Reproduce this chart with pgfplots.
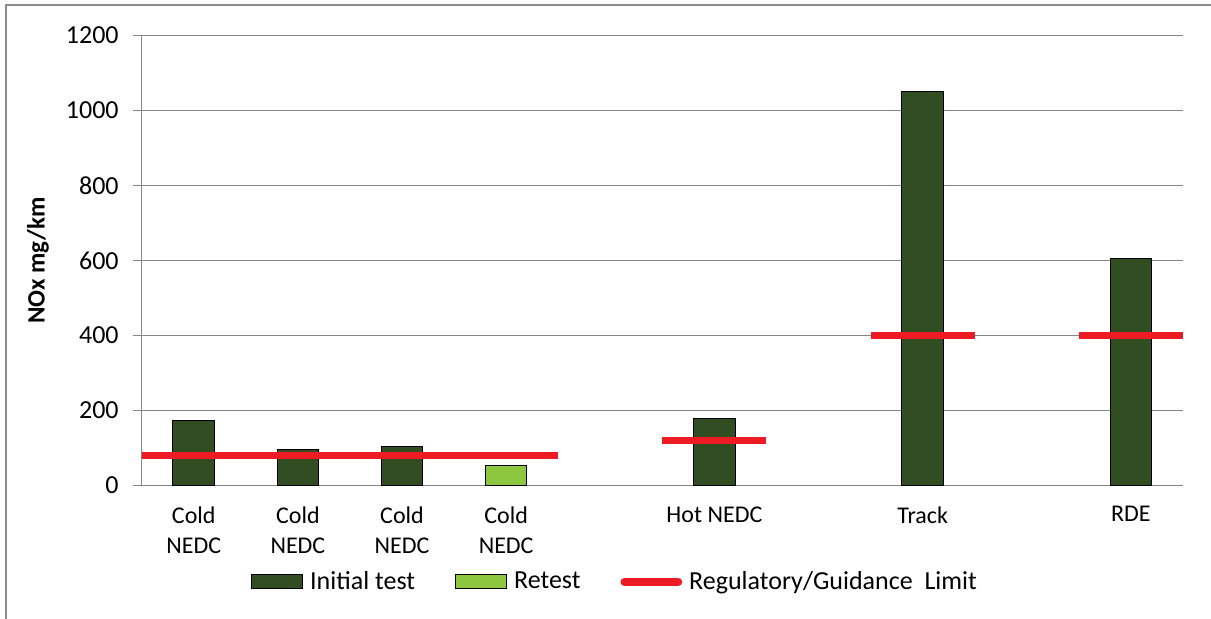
\documentclass[border=0pt]{standalone}
\usepackage{fontspec}
\setmainfont{Carlito}
\usepackage{pgfplots}
\pgfplotsset{compat=1.18}
\definecolor{darkg}{RGB}{50,77,34}
\definecolor{lightg}{RGB}{141,198,63}
\definecolor{limred}{RGB}{237,28,36}
\definecolor{gridg}{RGB}{134,134,134}
\definecolor{frameg}{RGB}{140,140,140}
\begin{document}
\begin{tikzpicture}
\useasboundingbox (0,0) rectangle (605.5pt,309.5pt);
\draw[frameg, line width=1.2pt] (3pt,0) -- (3pt,307pt) -- (605.5pt,307pt);
\begin{axis}[
  at={(70.85pt,66.75pt)}, anchor=south west,
  scale only axis, width=520.65pt, height=225pt,
  xmin=-0.5, xmax=9.5, ymin=0, ymax=1200,
  axis lines*=left,
  axis line style={gridg, line width=0.75pt},
  ytick={0,200,...,1200},
  ymajorgrids, grid style={gridg, line width=0.75pt},
  tick align=outside, major tick length=4.5pt,
  ytick style={gridg, line width=0.75pt},
  xtick={0,1,2,3,5,7,9},
  xticklabels={{Cold\\NEDC},{Cold\\NEDC},{Cold\\NEDC},{Cold\\NEDC},{Hot NEDC},{Track},{RDE}},
  xtick style={draw=none},
  xticklabel style={align=center, font=\fontsize{12}{15}\selectfont, yshift=-2.5pt},
  yticklabel style={font=\fontsize{13}{15}\selectfont, xshift=-3.5pt},
  /pgf/number format/assume math mode=true,
  /pgf/number format/1000 sep={},
  every axis y label/.style={at={(axis description cs:-0.0996,0.5)}, rotate=90, anchor=center, font=\fontsize{12.5}{15}\selectfont\bfseries},
  ylabel={NOx mg/km},
  legend style={draw=none, fill=none, at={(axis description cs:0.099,-0.214)}, anchor=west,
    legend columns=-1, font=\fontsize{13}{15}\selectfont,
    /tikz/every odd column/.append style={column sep=1.5pt},
    /tikz/every even column/.append style={column sep=18pt}},
  legend cell align=left,
]
\addplot[ybar, bar shift=0pt, bar width=20.8pt, fill=darkg, draw=black, line width=0.5pt,
  legend image code/.code={\draw[fill=darkg, draw=black, line width=0.5pt] (0pt,-3.5pt) rectangle (25.5pt,3.5pt);}]
  coordinates {(0,172) (1,97) (2,104) (5,179) (7,1051) (9,605)};
\addlegendentry{Initial test}
\addplot[ybar, bar shift=0pt, bar width=20.8pt, fill=lightg, draw=black, line width=0.5pt,
  legend image code/.code={\draw[fill=lightg, draw=black, line width=0.5pt] (0pt,-3.5pt) rectangle (25.5pt,3.5pt);}]
  coordinates {(3,52)};
\addlegendentry{Retest}
\addplot[limred, line width=3.85pt, unbounded coords=jump, mark=none,
  legend image code/.code={\draw[limred, line width=3.85pt, line cap=round] (0pt,0pt) -- (27pt,0pt);}]
  coordinates {(-0.5,80) (3.5,80) (4,nan) (4.5,120) (5.5,120) (6,nan) (6.5,400) (7.5,400) (8,nan) (8.5,400) (9.5,400)};
\addlegendentry{Regulatory/Guidance~ Limit}
\end{axis}
\end{tikzpicture}
\end{document}
